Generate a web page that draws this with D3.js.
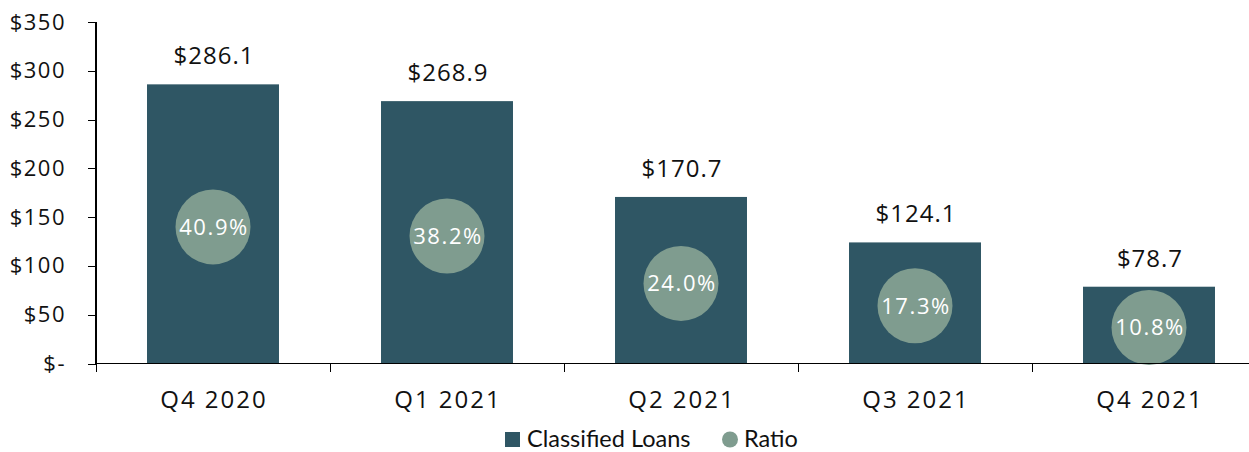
<!DOCTYPE html>
<html lang="en">
<head>
    <meta charset="UTF-8">
    <title>Classified Loans and Ratio</title>
    <script src="https://d3js.org/d3.v7.min.js"></script>
    <style>
        body { margin: 0; background: #fff; }
        .chart { font-family: "Open Sans", sans-serif; }
        .axis path, .axis line { stroke: #000; shape-rendering: crispEdges; }
    </style>
</head>
<body>
    <svg id="chart" class="chart" width="1249" height="452"></svg>

    <script>
        // Data
        const quarters = ["Q4 2020", "Q1 2021", "Q2 2021", "Q3 2021", "Q4 2021"];
        const loans = [286.1, 268.9, 170.7, 124.1, 78.7];
        const ratios = [40.9, 38.2, 24.0, 17.3, 10.8];
        const yTicks = [0, 50, 100, 150, 200, 250, 300, 350];

        const barColor = "#2f5664",
            dotColor = "#7f9c8f";

        const svg = d3.select("#chart");
        const plotLeft = 96, plotRight = 1266, plotTop = 22, plotBottom = 363.5;

        // Scales
        const x = d3.scaleBand().domain(quarters).range([plotLeft, plotRight]).paddingInner(0.436).paddingOuter(0.218);
        const y = d3.scaleLinear().domain([0, 350]).range([plotBottom, plotTop]);
        const y2 = d3.scaleLinear().domain([0, 100]).range([plotBottom, plotBottom - (plotBottom - plotTop) * 100 / 102.3]);

        // Bars
        svg.append("g").selectAll("rect")
            .data(quarters)
            .join("rect")
            .attr("x", d => x(d))
            .attr("y", (d, i) => y(loans[i]))
            .attr("width", x.bandwidth())
            .attr("height", (d, i) => y(0) - y(loans[i]))
            .attr("fill", barColor);

        // Bar value labels
        svg.append("g").selectAll("text")
            .data(quarters)
            .join("text")
            .attr("x", d => x(d) + x.bandwidth() / 2 + 1)
            .attr("y", (d, i) => y(loans[i]) - 20)
            .attr("text-anchor", "middle")
            .attr("font-size", 24)
            .attr("letter-spacing", 1)
            .attr("fill", "#111")
            .text((d, i) => "$" + loans[i].toFixed(1));

        // Ratio dots
        const dots = svg.append("g").selectAll("g")
            .data(quarters)
            .join("g")
            .attr("transform", (d, i) => `translate(${x(d) + x.bandwidth() / 2},${y2(ratios[i])})`);

        dots.append("circle")
            .attr("r", 37.5)
            .attr("fill", dotColor);

        dots.append("text")
            .attr("x", 1)
            .attr("text-anchor", "middle")
            .attr("dy", "0.36em")
            .attr("font-size", 22)
            .attr("letter-spacing", 1.6)
            .attr("fill", "#fff")
            .text((d, i) => ratios[i].toFixed(1) + "%");

        // Axes
        const xAxis = d3.scaleLinear().domain([0, 5]).range([plotLeft, plotRight]);
        svg.append("g")
            .attr("class", "axis")
            .attr("transform", `translate(0,${plotBottom})`)
            .call(d3.axisBottom(xAxis).ticks(5).tickSize(8).tickFormat(""))
            .call(g => g.select(".domain").attr("d", `M${plotLeft},0H${plotRight}`).attr("stroke-width", 1.6));

        svg.append("g")
            .attr("font-size", 24)
            .attr("letter-spacing", 2)
            .attr("text-anchor", "middle")
            .selectAll("text")
            .data(quarters)
            .join("text")
            .attr("x", d => x(d) + x.bandwidth() / 2 + 1)
            .attr("y", plotBottom + 44)
            .attr("fill", "#111")
            .text(d => d);

        svg.append("g")
            .attr("class", "axis")
            .attr("transform", `translate(${plotLeft},0)`)
            .call(d3.axisLeft(y).tickValues(yTicks).tickSize(8).tickPadding(22)
                .tickFormat(d => d === 0 ? "$-" : "$" + d))
            .call(g => g.select(".domain").attr("d", `M0,${plotTop}V${plotBottom}`).attr("stroke-width", 1.6))
            .call(g => g.selectAll("text").attr("font-size", 22).attr("letter-spacing", 1.5)
                .attr("fill", "#111").attr("font-family", "Open Sans"));

        // Legend
        const legend = svg.append("g").attr("font-family", "Lato").attr("font-size", 23.5).attr("fill", "#111");
        legend.append("rect").attr("x", 505).attr("y", 432).attr("width", 15).attr("height", 15).attr("fill", barColor);
        legend.append("text").attr("x", 527).attr("y", 447).text("Classified Loans");
        legend.append("circle").attr("cx", 730).attr("cy", 439.5).attr("r", 8).attr("fill", dotColor);
        legend.append("text").attr("x", 744).attr("y", 447).text("Ratio");
    </script>
</body>
</html>
